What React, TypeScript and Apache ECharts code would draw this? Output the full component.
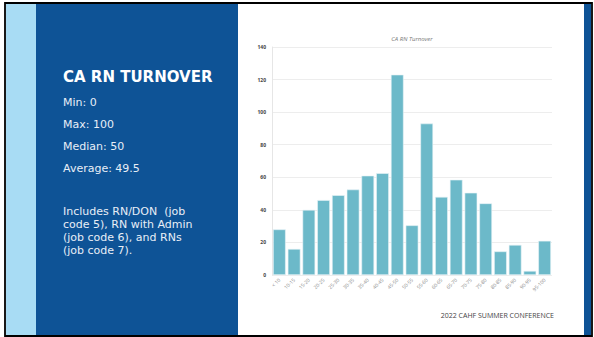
import React, { useEffect, useRef } from "react";
import * as echarts from "echarts";

const categories = [
  "< 10", "10-15", "15-20", "20-25", "25-30", "30-35", "35-40", "40-45", "45-50", "50-55",
  "55-60", "60-65", "65-70", "70-75", "75-80", "80-85", "85-90", "90-95", "95-100",
];
const counts = [28, 16, 40, 46, 49, 52.5, 61, 62.5, 123, 30.5, 93, 48, 58.5, 50.5, 44, 14.5, 18.5, 2.5, 21];
const yTicks = { min: 0, max: 140, interval: 20 };

const chartTitle = "CA RN Turnover";
const heading = "CA RN TURNOVER";
const stats = ["Min: 0", "Max: 100", "Median: 50", "Average: 49.5"];
const note = ["Includes RN/DON  (job", "code 5), RN with Admin", "(job code 6), and RNs", "(job code 7)."];
const footer = "2022 CAHF SUMMER CONFERENCE";

export default function App() {
  const ref = useRef<HTMLDivElement>(null);
  useEffect(() => {
    if (!ref.current) return;
    const chart = echarts.init(ref.current, null, { renderer: "svg" });
    const font = "'Open Sans', 'DejaVu Sans', sans-serif";
    const panelFont = "'DejaVu Sans', sans-serif";
    const statY = [102, 124, 146, 168];
    chart.setOption({
      animation: false,
      backgroundColor: "#ffffff",
      title: {
        text: chartTitle,
        left: 407,
        top: 31,
        textAlign: "center",
        textStyle: { fontSize: 6, fontStyle: "italic", fontWeight: "normal", color: "#777", fontFamily: font },
      },
      grid: { left: 272, right: 42, top: 47, bottom: 62, containLabel: false },
      xAxis: {
        type: "category",
        data: categories,
        axisLine: { show: false },
        axisTick: { show: false },
        axisLabel: { rotate: 45, fontSize: 5, color: "#888", margin: 4, interval: 0, fontFamily: font },
      },
      yAxis: {
        type: "value",
        min: yTicks.min,
        max: yTicks.max,
        interval: yTicks.interval,
        axisLine: { show: true, lineStyle: { color: "#e6e6e6", width: 1 } },
        axisTick: { show: false },
        axisLabel: { fontSize: 5, color: "#444", fontWeight: "bold", margin: 6, fontFamily: font },
        splitLine: { lineStyle: { color: "#ededed", width: 1.2 } },
      },
      series: [
        {
          type: "bar",
          data: counts,
          barCategoryGap: "14%",
          itemStyle: { color: "#6cb9c9", borderColor: "#e8f4f7", borderWidth: 0.6 },
        },
      ],
      graphic: [
        { type: "rect", z: -10, shape: { x: 5, y: 3, width: 587, height: 333 }, style: { fill: "#fff", stroke: "#000", lineWidth: 1.8 } },
        { type: "rect", z: -9, shape: { x: 6, y: 4, width: 30, height: 331 }, style: { fill: "#a8dcf4" } },
        { type: "rect", z: -9, shape: { x: 36, y: 4, width: 202, height: 331 }, style: { fill: "#0e5396" } },
        { type: "rect", z: -9, shape: { x: 584, y: 4, width: 7, height: 331 }, style: { fill: "#0e5396" } },
        {
          type: "text", x: 63, y: 77,
          style: { text: heading, fill: "#fff", font: `bold 15px ${panelFont}`, textVerticalAlign: "middle" },
        },
        ...stats.map((s, i) => ({
          type: "text", x: 63, y: statY[i],
          style: { text: s, fill: "#e8eef6", font: `11px ${panelFont}`, textVerticalAlign: "middle" },
        })),
        {
          type: "text", x: 63, y: 205,
          style: { text: note.join("\n"), fill: "#e8eef6", font: `11px ${panelFont}`, lineHeight: 13, textVerticalAlign: "top" },
        },
        {
          type: "text", x: 554, y: 315,
          style: { text: footer, fill: "#444", font: `7px ${font}`, textAlign: "right", textVerticalAlign: "middle" },
        },
      ],
    });
    return () => chart.dispose();
  }, []);
  return <div ref={ref} style={{ position: "fixed", left: 0, top: 0, width: 594, height: 337 }} />;
}
